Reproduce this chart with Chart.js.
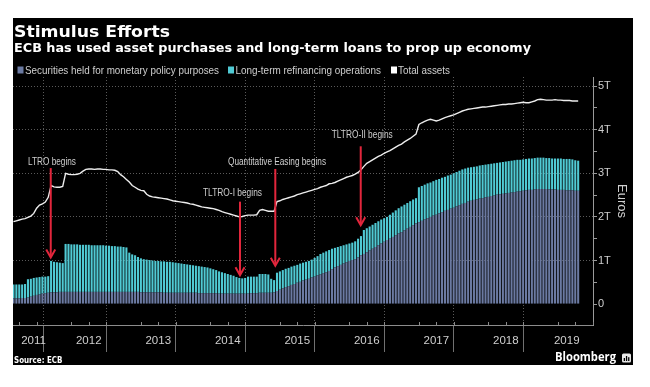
<!DOCTYPE html>
<html><head><meta charset="utf-8">
<script src="https://cdn.jsdelivr.net/npm/chart.js@4.4.0/dist/chart.umd.min.js"></script>
<style>html,body{margin:0;padding:0;background:#fff;overflow:hidden}canvas{display:block}</style>
</head><body>
<canvas id="c" width="650" height="387"></canvas>
<script>
// ---------------- DATA (trillions of euros, half-monthly from June 2011 to July 2019) ----------------
const firstPeriodYear = 2011, firstPeriodHalfMonth = 10; // first half of June 2011
const yearLabels = ['2011','2012','2013','2014','2015','2016','2017','2018','2019'];
const yearBoundaries = [2012,2013,2014,2015,2016,2017,2018,2019];
const yTickValues = [0,1,2,3,4,5];
const yTickLabels = ['0','1T','2T','3T','4T','5T'];
const seriesNames = ['Securities held for monetary policy purposes','Long-term refinancing operations','Total assets'];

const securities = [
  0.13,0.13,0.13,0.14,0.14,0.15,0.17,0.19,0.21,0.22,0.24,0.25,0.26,0.27,
  0.27,0.27,0.28,0.28,0.28,0.28,0.28,0.28,0.28,0.28,0.28,0.28,0.28,0.28,0.28,0.28,0.28,0.28,0.28,0.28,0.28,0.28,0.28,0.28,
  0.28,0.28,0.28,0.28,0.28,0.28,0.27,0.27,0.27,0.27,0.27,0.27,0.27,0.27,0.26,0.26,0.26,0.26,0.26,0.26,0.26,0.26,0.26,0.26,
  0.26,0.26,0.25,0.25,0.25,0.25,0.25,0.25,0.25,0.24,0.24,0.24,0.24,0.24,0.24,0.24,0.24,0.24,0.24,0.24,0.25,0.25,0.25,0.26,
  0.26,0.26,0.26,0.26,0.27,0.30,0.33,0.36,0.39,0.41,0.44,0.46,0.49,0.51,0.54,0.56,0.58,0.61,0.63,0.66,0.68,0.71,0.73,0.76,
  0.80,0.84,0.87,0.90,0.93,0.96,0.99,1.01,1.03,1.07,1.12,1.15,1.19,1.23,1.27,1.31,1.35,1.39,1.43,1.47,1.50,1.54,1.58,1.62,
  1.65,1.69,1.73,1.77,1.81,1.85,1.88,1.91,1.94,1.97,2.00,2.03,2.05,2.08,2.11,2.14,2.16,2.19,2.21,2.24,2.27,2.30,2.32,2.35,
  2.37,2.39,2.40,2.42,2.43,2.45,2.46,2.48,2.49,2.51,2.52,2.53,2.54,2.55,2.56,2.57,2.58,2.59,2.60,2.61,2.62,2.62,2.63,2.64,
  2.64,2.64,2.64,2.63,2.63,2.63,2.62,2.62,2.62,2.61,2.61,2.61,2.60,2.60
];
const ltro = [
  0.32,0.32,0.32,0.31,0.32,0.42,0.41,0.41,0.40,0.40,0.39,0.38,0.38,0.72,
  0.70,0.69,0.67,0.66,1.10,1.10,1.09,1.09,1.09,1.08,1.08,1.08,1.08,1.07,1.07,1.07,1.07,1.07,1.06,1.06,1.05,1.05,1.04,1.04,
  1.03,1.02,0.90,0.86,0.84,0.80,0.78,0.76,0.75,0.74,0.73,0.72,0.72,0.71,0.72,0.71,0.71,0.70,0.69,0.68,0.67,0.66,0.65,0.64,
  0.63,0.62,0.62,0.61,0.60,0.59,0.57,0.55,0.53,0.51,0.49,0.47,0.45,0.43,0.41,0.38,0.36,0.35,0.36,0.39,0.38,0.38,0.38,0.43,
  0.43,0.43,0.42,0.32,0.28,0.42,0.42,0.42,0.42,0.42,0.42,0.42,0.41,0.42,0.41,0.41,0.41,0.41,0.43,0.44,0.47,0.47,0.48,0.48,
  0.47,0.45,0.44,0.43,0.42,0.41,0.40,0.40,0.41,0.43,0.44,0.55,0.55,0.55,0.55,0.55,0.55,0.55,0.54,0.53,0.55,0.56,0.57,0.58,
  0.59,0.59,0.59,0.59,0.59,0.58,0.80,0.80,0.80,0.80,0.79,0.79,0.80,0.79,0.79,0.78,0.79,0.78,0.79,0.79,0.79,0.79,0.79,0.78,
  0.77,0.76,0.76,0.76,0.76,0.75,0.75,0.74,0.74,0.73,0.73,0.73,0.73,0.73,0.73,0.73,0.73,0.72,0.72,0.72,0.72,0.72,0.72,0.72,
  0.72,0.72,0.71,0.72,0.71,0.71,0.72,0.72,0.71,0.72,0.72,0.71,0.70,0.69
];
const totalAssets = [
  1.89,1.91,1.93,1.95,1.96,1.99,2.02,2.08,2.20,2.27,2.30,2.34,2.45,2.72,
  2.69,2.68,2.68,2.70,3.00,2.98,2.97,2.97,2.98,3.00,3.05,3.09,3.10,3.10,3.09,3.10,3.10,3.09,3.09,3.08,3.08,3.07,3.04,2.97,
  2.92,2.86,2.80,2.72,2.68,2.64,2.61,2.60,2.52,2.48,2.46,2.45,2.44,2.43,2.42,2.41,2.39,2.37,2.36,2.35,2.34,2.33,2.32,2.30,
  2.29,2.27,2.25,2.23,2.22,2.21,2.20,2.19,2.17,2.15,2.12,2.10,2.08,2.06,2.04,2.02,2.00,2.01,2.03,2.04,2.04,2.04,2.05,2.15,
  2.17,2.15,2.13,2.13,2.13,2.35,2.37,2.40,2.42,2.44,2.46,2.48,2.51,2.53,2.55,2.57,2.59,2.61,2.63,2.65,2.68,2.70,2.72,2.76,
  2.77,2.79,2.82,2.85,2.88,2.91,2.93,2.95,2.98,3.02,3.08,3.16,3.23,3.27,3.31,3.35,3.39,3.42,3.46,3.49,3.52,3.56,3.60,3.64,
  3.67,3.72,3.76,3.80,3.85,3.90,4.12,4.16,4.19,4.22,4.24,4.22,4.20,4.22,4.25,4.28,4.30,4.32,4.34,4.37,4.40,4.43,4.45,4.47,
  4.48,4.49,4.50,4.51,4.52,4.52,4.53,4.54,4.55,4.56,4.57,4.58,4.58,4.59,4.59,4.60,4.61,4.62,4.63,4.62,4.62,4.64,4.66,4.69,
  4.70,4.69,4.68,4.68,4.68,4.69,4.68,4.68,4.67,4.67,4.67,4.66,4.66,4.66
];
const annotationTexts = ['LTRO begins','TLTRO-I begins','Quantitative Easing begins','TLTRO-II begins'];

// ---------------- layout / style ----------------
const periods = securities.map((_, i) => firstPeriodYear + (firstPeriodHalfMonth + i) / 24);
const X_MIN = 2011.41, X_MAX = 2019.755, Y_MIN = -0.48, Y_MAX = 5.21;
const C_SEC = '#6b7aa2', C_LTRO = '#50cad4', C_LINE = '#ededed', C_TXT = '#cfcfcf', C_RED = '#e2263c', C_GRID = '#5a5a5a';
const labelPos = yearLabels.map(l => { const y = +l; return (Math.max(y, X_MIN) + Math.min(y + 1, X_MAX)) / 2; });
const labelMap = new Map(labelPos.map((v, i) => [v, yearLabels[i]]));
const xTicks = [...yearBoundaries, ...labelPos].sort((a, b) => a - b);
const yTicksAll = [];
for (let v = 0; v <= 5; v += 0.5) yTicksAll.push(v);
const isBoundary = v => yearBoundaries.includes(v);

// annotation layout (data coordinates: x in years, y in trillions)
const notesLayout = [
  {tx: 2011.971, ty: 3.26, w: 48, ax: 2011.953, from: 3.12, to: 1.07},
  {tx: 2014.568, ty: 2.55, w: 59, ax: 2014.676, from: 2.35, to: 0.66},
  {tx: 2015.209, ty: 3.26, w: 98, ax: 2015.184, from: 3.10, to: 0.88},
  {tx: 2016.434, ty: 3.88, w: 61, ax: 2016.413, from: 3.62, to: 1.81}
];

function fitText(ctx, text, x, y, targetW, align) {
  const w = ctx.measureText(text).width;
  const sx = targetW / w;
  ctx.save();
  ctx.translate(x, y);
  ctx.scale(sx, 1);
  ctx.textAlign = align;
  ctx.fillText(text, 0, 0);
  ctx.restore();
}

const bgPlugin = {
  id: 'bg',
  beforeDraw(chart) {
    const ctx = chart.ctx;
    ctx.save();
    ctx.fillStyle = '#ffffff';
    ctx.fillRect(0, 0, chart.width, chart.height);
    ctx.fillStyle = '#000000';
    ctx.fillRect(13, 18, 620, 347);
    ctx.restore();
  }
};

const notesPlugin = {
  id: 'notes',
  afterDatasetsDraw(chart) {
    const ctx = chart.ctx, xs = chart.scales.x, ys = chart.scales.y;
    ctx.save();
    notesLayout.forEach((n, i) => {
      const x = xs.getPixelForValue(n.ax);
      const y1 = ys.getPixelForValue(n.from), y2 = ys.getPixelForValue(n.to);
      ctx.strokeStyle = C_RED; ctx.lineWidth = 2; ctx.lineCap = 'butt';
      ctx.beginPath(); ctx.moveTo(x, y1); ctx.lineTo(x, y2 - 1); ctx.stroke();
      ctx.beginPath(); ctx.moveTo(x - 4.5, y2 - 8); ctx.lineTo(x, y2); ctx.lineTo(x + 4.5, y2 - 8); ctx.stroke();
      ctx.fillStyle = C_TXT;
      ctx.font = '10px "Liberation Sans", Arial, sans-serif';
      ctx.textBaseline = 'middle';
      fitText(ctx, annotationTexts[i], xs.getPixelForValue(n.tx), ys.getPixelForValue(n.ty), n.w, 'center');
    });
    ctx.restore();
  }
};

const textPlugin = {
  id: 'texts',
  afterDraw(chart) {
    const ctx = chart.ctx, xs = chart.scales.x;
    ctx.save();
    ctx.fillStyle = '#ffffff';
    ctx.textBaseline = 'alphabetic';
    ctx.font = 'bold 15px "DejaVu Sans", sans-serif';
    fitText(ctx, 'Stimulus Efforts', 14, 36.5, 156, 'left');
    ctx.font = 'bold 11.5px "DejaVu Sans", sans-serif';
    fitText(ctx, 'ECB has used asset purchases and long-term loans to prop up economy', 14, 51.5, 517, 'left');
    // legend
    const leg = [
      {c: C_SEC, bx: 17.5, tx: 25, tw: 194},
      {c: C_LTRO, bx: 228, tx: 235.5, tw: 145.5},
      {c: '#ffffff', bx: 391, tx: 398, tw: 52}
    ];
    ctx.font = '10px "Liberation Sans", Arial, sans-serif';
    leg.forEach((l, i) => {
      ctx.fillStyle = l.c;
      ctx.fillRect(l.bx, 66.5, 6, 7);
      ctx.fillStyle = C_TXT;
      fitText(ctx, seriesNames[i], l.tx, 74, l.tw, 'left');
    });
    // source & brand
    ctx.fillStyle = '#ffffff';
    ctx.font = 'bold 9.5px "DejaVu Sans", sans-serif';
    fitText(ctx, 'Source: ECB', 14, 362.5, 48.5, 'left');
    ctx.font = 'bold 12.5px "Open Sans", "DejaVu Sans", sans-serif';
    fitText(ctx, 'Bloomberg', 555, 361, 61, 'left');
    // brand icon
    ctx.fillStyle = '#e8e8e8';
    ctx.beginPath();
    if (ctx.roundRect) ctx.roundRect(622, 353.5, 9, 9, 1.5); else ctx.rect(622, 353.5, 9, 9);
    ctx.fill();
    ctx.fillStyle = '#000';
    ctx.fillRect(623.7, 358, 1.3, 3); ctx.fillRect(625.9, 356, 1.3, 5); ctx.fillRect(628.1, 357.2, 1.3, 3.8);
    // minor quarter ticks on the x axis
    ctx.strokeStyle = '#8a8a8a'; ctx.lineWidth = 1;
    const yb = chart.chartArea.bottom;
    for (let y = 2011; y <= 2019; y++) {
      [0.25, 0.5, 0.75].forEach(q => {
        const v = y + q;
        if (v <= X_MIN || v >= X_MAX) return;
        const px = Math.round(xs.getPixelForValue(v)) + 0.5;
        ctx.beginPath(); ctx.moveTo(px, yb - 3); ctx.lineTo(px, yb); ctx.stroke();
      });
    }
    ctx.restore();
  }
};

new Chart(document.getElementById('c'), {
  type: 'bar',
  data: {
    datasets: [
      {type: 'line', label: seriesNames[2], data: periods.map((x, i) => ({x, y: totalAssets[i]})),
       borderColor: C_LINE, borderWidth: 1.4, pointRadius: 0, tension: 0, order: 0},
      {label: seriesNames[0], data: periods.map((x, i) => ({x, y: securities[i]})),
       backgroundColor: C_SEC, stack: 's', order: 1, categoryPercentage: 1, barPercentage: 0.72},
      {label: seriesNames[1], data: periods.map((x, i) => ({x, y: ltro[i]})),
       backgroundColor: C_LTRO, stack: 's', order: 1, categoryPercentage: 1, barPercentage: 0.72}
    ]
  },
  options: {
    responsive: false, animation: false, devicePixelRatio: 1,
    layout: {padding: {left: 13, top: 77, right: 17, bottom: 22}},
    plugins: {legend: {display: false}, tooltip: {enabled: false}, title: {display: false}},
    scales: {
      x: {
        type: 'linear', min: X_MIN, max: X_MAX, stacked: true, offset: false,
        afterBuildTicks: s => { s.ticks = xTicks.map(v => ({value: v})); },
        afterFit: s => { s.height = 40; },
        ticks: {autoSkip: false, maxRotation: 0, minRotation: 0, padding: -18, color: C_TXT,
                font: {family: '"Liberation Sans", Arial, sans-serif', size: 11.5},
                callback: v => labelMap.get(v) || ''},
        grid: {display: true, drawOnChartArea: true, drawTicks: true, tickLength: 27, lineWidth: 1, tickWidth: 1,
               color: c => (c.tick && isBoundary(c.tick.value)) ? C_GRID : 'rgba(0,0,0,0)',
               tickColor: c => (c.tick && isBoundary(c.tick.value)) ? '#707070' : 'rgba(0,0,0,0)',
               tickBorderDash: [], borderDash: [1, 2]},
        border: {display: true, color: '#8c8c8c', width: 1, dash: [1, 2]}
      },
      y: {
        type: 'linear', position: 'right', min: Y_MIN, max: Y_MAX, stacked: true,
        afterBuildTicks: s => { s.ticks = yTicksAll.map(v => ({value: v})); },
        afterFit: s => { s.width = 40; },
        ticks: {padding: 1, color: C_TXT, font: {family: '"Liberation Sans", Arial, sans-serif', size: 11},
                callback: v => { const i = yTickValues.indexOf(v); return i >= 0 ? yTickLabels[i] : ''; }},
        grid: {drawOnChartArea: true, drawTicks: true, tickLength: 4, lineWidth: 1, tickWidth: 1,
               color: c => (c.tick && Number.isInteger(c.tick.value) && c.tick.value > 0) ? C_GRID : 'rgba(0,0,0,0)',
               tickColor: '#9a9a9a', tickBorderDash: [], borderDash: [1, 2]},
        border: {display: true, color: '#9a9a9a', width: 1, dash: [1, 2]},
        title: {display: true, text: 'Euros', color: C_TXT, font: {family: '"Liberation Sans", Arial, sans-serif', size: 13},
                padding: {top: 3.5, bottom: 0}}
      }
    }
  },
  plugins: [bgPlugin, notesPlugin, textPlugin]
});
</script>
</body></html>
